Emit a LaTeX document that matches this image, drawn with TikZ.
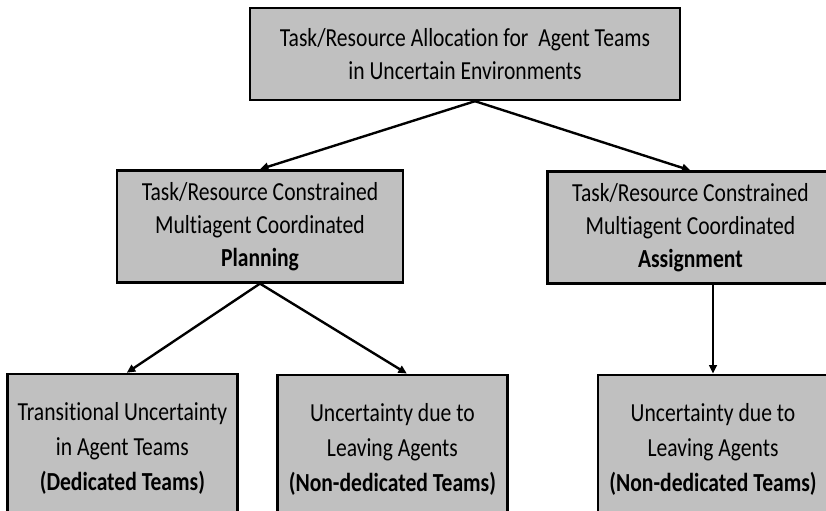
\documentclass[tikz,border=0pt]{standalone}
\usepackage{fontspec}
\newfontfamily\boxfont{Carlito}[FakeStretch=0.83, Ligatures=NoCommon]
\usetikzlibrary{arrows.meta}
\definecolor{boxgray}{HTML}{C0C0C0}

\begin{document}
\begin{tikzpicture}[
  box/.style={rectangle, draw, line width=1.7pt, fill=boxgray, align=center, inner sep=0pt,
    font=\boxfont\fontsize{18.5}{23.5}\selectfont},
  midbox/.style={box, minimum width=7.15cm, minimum height=2.8cm},
  leafbox/.style={box, minimum width=5.75cm, minimum height=3.725cm,
    font=\boxfont\fontsize{18.5}{25}\selectfont},
  arr/.style={-{Triangle[length=6pt,width=5.5pt]}, line width=1.7pt}
]
\useasboundingbox (0,0) rectangle (20.65,-12.75);

% Top level
\node[box, minimum width=10.75cm, minimum height=2.3cm] (alloc) at (11.625,-1.35)
  {Task/Resource Allocation for~ Agent Teams\\in Uncertain Environments};

% Second level
\node[midbox] (plan) at (6.5,-5.66)
  {Task/Resource Constrained\\Multiagent Coordinated\\\textbf{Planning}};
\node[midbox] (assign) at (17.26,-5.69)
  {Task/Resource Constrained\\Multiagent Coordinated\\\textbf{Assignment}};

% Leaves
\node[leafbox] (trans) at (3.06,-11.21)
  {Transitional Uncertainty\\in Agent Teams\\\textbf{(Dedicated Teams)}};
\node[leafbox] (leave) at (9.81,-11.23)
  {Uncertainty due to\\Leaving Agents\\\textbf{(Non-dedicated Teams)}};
\node[leafbox] (leavetwo) at (17.825,-11.23)
  {Uncertainty due to\\Leaving Agents\\\textbf{(Non-dedicated Teams)}};

% Arrows
\draw[arr] ([xshift=0.25cm]alloc.south) -- (plan.north);
\draw[arr] ([xshift=0.25cm]alloc.south) -- (assign.north);
\draw[arr] (plan.south) -- ([xshift=0.11cm]trans.north);
\draw[arr] (plan.south) -- ([xshift=0.36cm]leave.north);
\draw[arr] (assign.south -| leavetwo.north) -- (leavetwo.north);
\end{tikzpicture}
\end{document}
